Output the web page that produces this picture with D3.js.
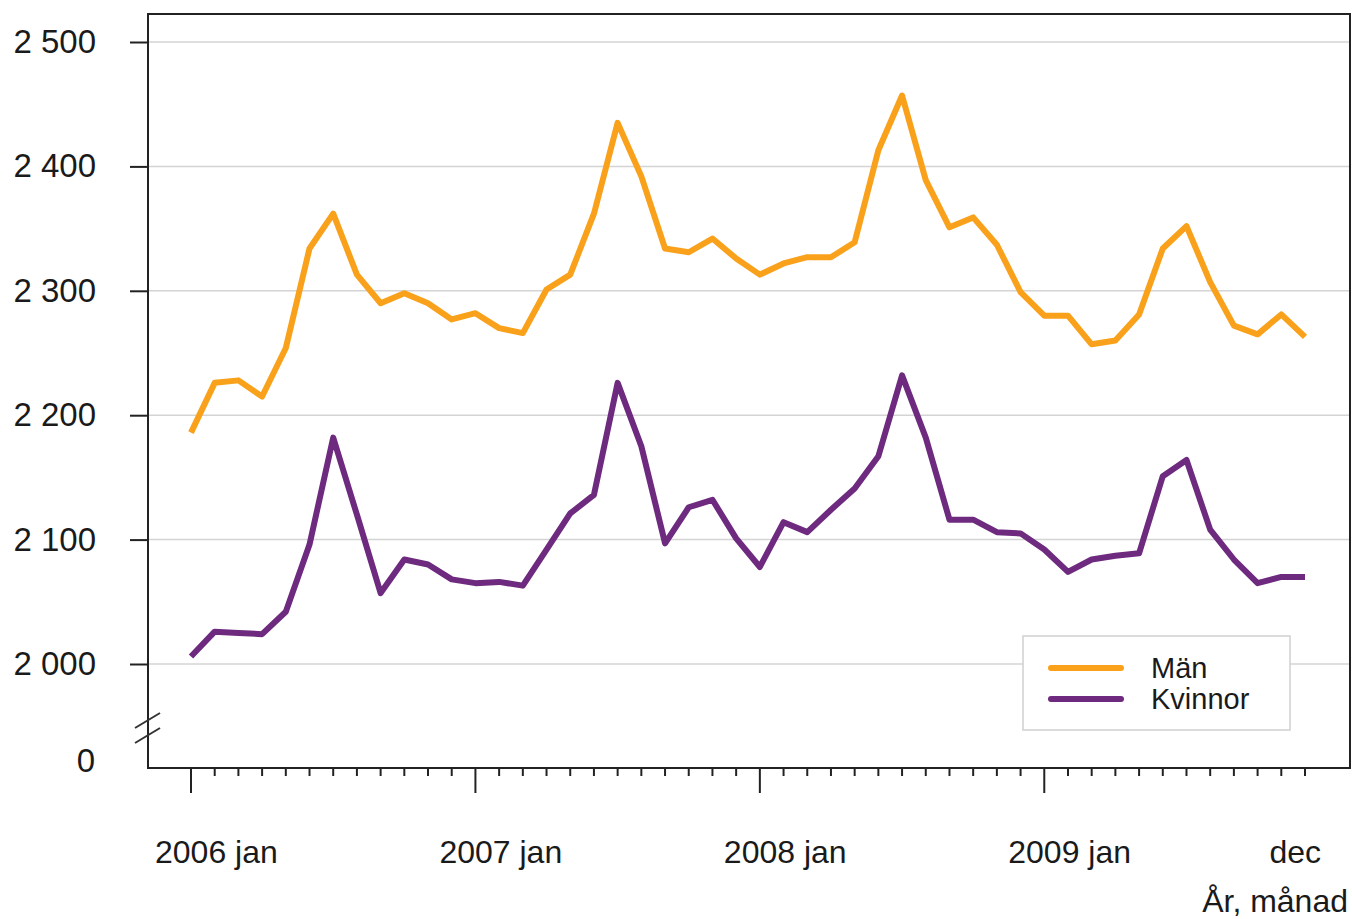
<!DOCTYPE html>
<html>
<head>
<meta charset="utf-8">
<script src="https://cdn.jsdelivr.net/npm/d3@7"></script>
<style>
  body { margin: 0; background: #fff; }
  text { font-family: "Liberation Sans", Arial, sans-serif; fill: #1a1a1a; }
</style>
</head>
<body>
<svg id="chart" width="1352" height="919"></svg>
<script>
const months = ["jan","feb","mar","apr","maj","jun","jul","aug","sep","okt","nov","dec"];
const years = [2006, 2007, 2008, 2009];

const man = [
  2186, 2226, 2228, 2215, 2254, 2334, 2362, 2313, 2290, 2298, 2290, 2277,
  2282, 2270, 2266, 2301, 2313, 2362, 2435, 2392, 2334, 2331, 2342, 2326,
  2313, 2322, 2327, 2327, 2339, 2413, 2457, 2389, 2351, 2359, 2337, 2299,
  2280, 2280, 2257, 2260, 2281, 2334, 2352, 2307, 2272, 2265, 2281, 2263
];
const kvinnor = [
  2006, 2026, 2025, 2024, 2042, 2096, 2182, 2120, 2057, 2084, 2080, 2068,
  2065, 2066, 2063, 2092, 2121, 2136, 2226, 2175, 2097, 2126, 2132, 2101,
  2078, 2114, 2106, 2124, 2141, 2167, 2232, 2182, 2116, 2116, 2106, 2105,
  2092, 2074, 2084, 2087, 2089, 2151, 2164, 2108, 2084, 2065, 2070, 2070
];

const yTicks = [2000, 2100, 2200, 2300, 2400, 2500];
const yTickLabels = ["2 000", "2 100", "2 200", "2 300", "2 400", "2 500"];
const seriesNames = ["Män", "Kvinnor"];
const xTitle = "År, månad";

const svg = d3.select("#chart");
const width = +svg.attr("width");
const height = +svg.attr("height");

const margin = { top: 14, right: 2, bottom: 151, left: 148 };
const plotRight = width - margin.right;
const plotBottom = height - margin.bottom;

const colors = { man: "#f9a11b", kvinnor: "#6e2a7f" };

const data = man.map((m, i) => ({ i, man: m, kvinnor: kvinnor[i] }));

const x = d3.scaleLinear()
  .domain([0, data.length - 1])
  .range([margin.left + 43, plotRight - 45]);

const y = d3.scaleLinear()
  .domain([2000, 2500])
  .range([plotBottom - 104, margin.top + 28]);

// Grid lines
svg.append("g")
  .selectAll("line")
  .data(yTicks)
  .join("line")
  .attr("x1", margin.left)
  .attr("x2", plotRight)
  .attr("y1", d => y(d))
  .attr("y2", d => y(d))
  .attr("stroke", "#d4d4d4")
  .attr("stroke-width", 1.5);

// Y axis ticks + labels
const yAxis = svg.append("g")
  .attr("transform", `translate(${margin.left}, 0)`)
  .call(d3.axisLeft(y)
    .tickValues(yTicks)
    .tickSize(18)
    .tickPadding(34)
    .tickFormat((d, i) => yTickLabels[i]));
yAxis.select(".domain").remove();
yAxis.selectAll("line").attr("stroke", "#222").attr("stroke-width", 2);
yAxis.selectAll("text")
  .attr("font-size", 33)
  .attr("fill", "#1a1a1a")
  .attr("font-family", "Liberation Sans, Arial, sans-serif");

// zero label for the broken axis
svg.append("text")
  .attr("x", margin.left - 53)
  .attr("y", plotBottom - 8)
  .attr("dy", "0.35em")
  .attr("text-anchor", "end")
  .attr("font-size", 33)
  .text("0");

// X axis ticks (major at jan, minor for every month)
const xAxis = svg.append("g")
  .attr("transform", `translate(0, ${plotBottom})`);
xAxis.selectAll("line")
  .data(data)
  .join("line")
  .attr("x1", d => x(d.i))
  .attr("x2", d => x(d.i))
  .attr("y1", 0)
  .attr("y2", d => (d.i % 12 === 0 ? 25 : 8))
  .attr("stroke", "#222")
  .attr("stroke-width", 2);

// X labels
svg.append("g")
  .selectAll("text")
  .data(years)
  .join("text")
  .attr("x", (d, k) => x(k * 12) - 36)
  .attr("y", plotBottom + 95)
  .attr("font-size", 32)
  .attr("text-anchor", "start")
  .text(d => d + " " + months[0]);

svg.append("text")
  .attr("x", x(data.length - 1) + 16)
  .attr("y", plotBottom + 95)
  .attr("font-size", 32)
  .attr("text-anchor", "end")
  .text(months[11]);

svg.append("text")
  .attr("x", plotRight - 2)
  .attr("y", plotBottom + 144)
  .attr("font-size", 32)
  .attr("text-anchor", "end")
  .text(xTitle);

// Lines
const manLine = d3.line().x(d => x(d.i)).y(d => y(d.man));
const kvLine = d3.line().x(d => x(d.i)).y(d => y(d.kvinnor));

svg.append("path")
  .datum(data)
  .attr("fill", "none")
  .attr("stroke", colors.man)
  .attr("stroke-width", 6)
  .attr("stroke-linejoin", "round")
  .attr("d", manLine);

svg.append("path")
  .datum(data)
  .attr("fill", "none")
  .attr("stroke", colors.kvinnor)
  .attr("stroke-width", 6)
  .attr("stroke-linejoin", "round")
  .attr("d", kvLine);

// Frame
svg.append("rect")
  .attr("x", margin.left)
  .attr("y", margin.top)
  .attr("width", plotRight - margin.left)
  .attr("height", plotBottom - margin.top)
  .attr("fill", "none")
  .attr("stroke", "#222")
  .attr("stroke-width", 2);

// Axis break marks
const brk = svg.append("g");
[0, 15].forEach(off => {
  brk.append("line")
    .attr("x1", margin.left - 13)
    .attr("y1", plotBottom - 40 + off)
    .attr("x2", margin.left + 12)
    .attr("y2", plotBottom - 55 + off)
    .attr("stroke", "#333")
    .attr("stroke-width", 2);
});

// Legend
const legend = svg.append("g")
  .attr("transform", `translate(${plotRight - 327}, ${y(2000) - 28})`);

legend.append("rect")
  .attr("width", 267)
  .attr("height", 94)
  .attr("fill", "#fff")
  .attr("stroke", "#d0d0d0")
  .attr("stroke-width", 1.5);

[colors.man, colors.kvinnor].forEach((c, k) => {
  legend.append("line")
    .attr("x1", 28)
    .attr("x2", 98)
    .attr("y1", 32 + k * 31)
    .attr("y2", 32 + k * 31)
    .attr("stroke", c)
    .attr("stroke-width", 6)
    .attr("stroke-linecap", "round");
  legend.append("text")
    .attr("x", 128)
    .attr("y", 32 + k * 31)
    .attr("dy", "0.35em")
    .attr("font-size", 29)
    .text(seriesNames[k]);
});
</script>
</body>
</html>
